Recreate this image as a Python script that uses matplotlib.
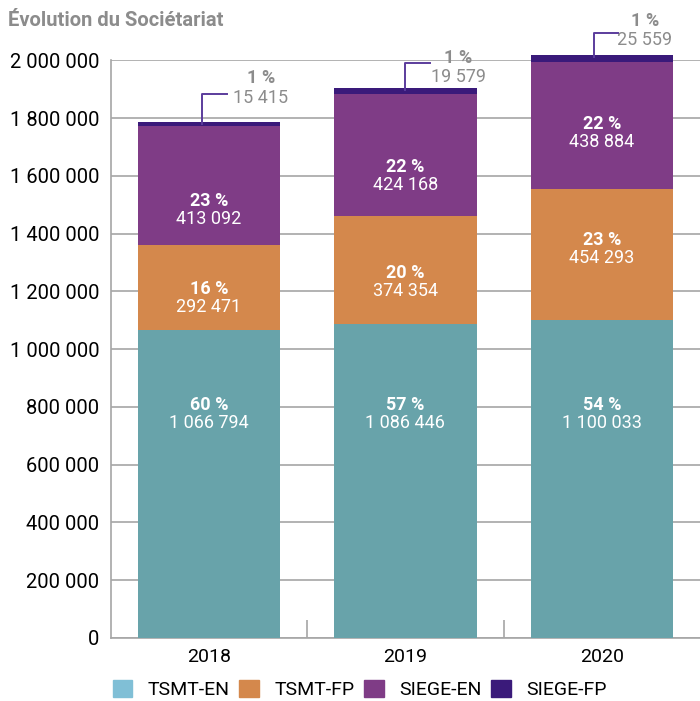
import matplotlib.pyplot as plt
from matplotlib.patches import Patch
from matplotlib.ticker import FuncFormatter

plt.rcParams['font.family'] = ['Roboto', 'DejaVu Sans']

# data
years = ['2018', '2019', '2020']
series = ['TSMT-EN', 'TSMT-FP', 'SIEGE-EN', 'SIEGE-FP']
tsmt_en = [1066794, 1086446, 1100033]
tsmt_fp = [292471, 374354, 454293]
siege_en = [413092, 424168, 438884]
siege_fp = [15415, 19579, 25559]
pct_tsmt_en = [60, 57, 54]
pct_tsmt_fp = [16, 20, 23]
pct_siege_en = [23, 22, 22]
pct_siege_fp = [1, 1, 1]

values = [tsmt_en, tsmt_fp, siege_en, siege_fp]
pcts = [pct_tsmt_en, pct_tsmt_fp, pct_siege_en, pct_siege_fp]
bar_colors = ['#68a3aa', '#d4884c', '#7f3c86', '#3a1a7a']
legend_colors = ['#80bfd6', '#d4884c', '#7f3c86', '#3a1a7a']
grey = '#8c8c8c'

# label placement (shift from segment middle) and callout layout
label_shift = [[None, None, None], [-35000, -40000, 20000], [-85000, -75000, -27000]]
line_x = [-0.035, 0.0, -0.04]
line_h = [97000, 85000, 76000]
text_x = [0.264, 0.27, 0.22]
pct_h = [152000, 104000, 118000]
val_h = [83000, 36000, 52000]


def fmt(v):
    return '{:,}'.format(int(v)).replace(',', ' ')


fig = plt.figure(figsize=(7.0, 7.01), dpi=100)
ax = fig.add_axes([0.158, 0.09, 0.842, 0.824])

x = range(len(years))
width = 0.725
bottom = [0, 0, 0]
for k in range(4):
    ax.bar(x, values[k], width, bottom=bottom, color=bar_colors[k],
           zorder=3, clip_on=False)
    for i in x:
        v = values[k][i]
        if k < 3:
            if k == 0:
                yc = 775000
            else:
                yc = bottom[i] + v / 2 + label_shift[k][i]
            ax.text(i, yc + 31000, '%d %%' % pcts[k][i], ha='center', va='center',
                    color='white', fontsize=13, fontweight='bold', zorder=4)
            ax.text(i, yc - 31000, fmt(v), ha='center', va='center',
                    color='white', fontsize=13, zorder=4)
    bottom = [bottom[i] + values[k][i] for i in x]

# callouts for the small top segment
for i in x:
    top = bottom[i]
    x0 = i + line_x[i]
    ax.plot([x0, x0, x0 + 0.125], [top - 8000, top + line_h[i], top + line_h[i]],
            color='#5b3c9c', lw=1.4, clip_on=False, zorder=5)
    ax.text(i + text_x[i], top + pct_h[i], '%d %%' % pct_siege_fp[i], ha='center',
            va='center', color=grey, fontsize=13, fontweight='bold')
    ax.text(i + text_x[i], top + val_h[i], fmt(siege_fp[i]), ha='center',
            va='center', color=grey, fontsize=13)

ax.set_xlim(-0.5, 2.5)
ax.set_ylim(0, 2000000)
ax.set_yticks(range(0, 2000001, 200000))
ax.yaxis.set_major_formatter(FuncFormatter(lambda v, p: fmt(v)))
ax.grid(axis='y', color='#a6a6a6', lw=1.2, zorder=0)
ax.set_axisbelow(True)
ax.set_xticks(list(x))
ax.set_xticklabels(years)
ax.set_xticks([0.5, 1.5], minor=True)
ax.tick_params(axis='x', which='major', length=0, labelsize=14, pad=7)
ax.tick_params(axis='x', which='minor', direction='in', length=13,
               color='#a6a6a6', width=1.2)
ax.tick_params(axis='y', length=0, labelsize=14.5, pad=8)
for s in ['top', 'right']:
    ax.spines[s].set_visible(False)
for s in ['left', 'bottom']:
    ax.spines[s].set_color('#a6a6a6')
    ax.spines[s].set_linewidth(1.2)

fig.text(0.012, 0.984, 'Évolution du Sociétariat', fontsize=14.5,
         fontweight='bold', color=grey, ha='left', va='top')

handles = [Patch(color=c) for c in legend_colors]
fig.legend(handles, series, loc='lower center', bbox_to_anchor=(0.514, -0.022),
           ncol=4, frameon=False, fontsize=14, handlelength=1.0,
           handleheight=1.0, columnspacing=0.5, handletextpad=0.8)

fig.savefig('out.png', dpi=100)
